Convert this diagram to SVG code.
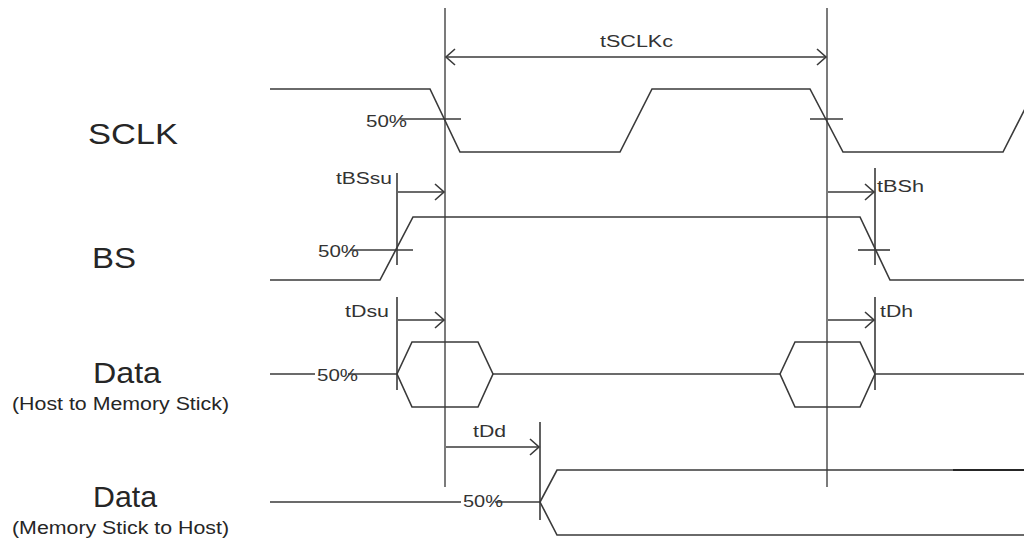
<svg xmlns="http://www.w3.org/2000/svg" width="1024" height="540" viewBox="0 0 1024 540">
  <defs>
    <style>
      .wave { fill: none; stroke: #3a3a3a; stroke-width: 1.6; stroke-linejoin: miter; }
      .guide { fill: none; stroke: #5a5a5a; stroke-width: 1.6; }
      .tick { fill: none; stroke: #3a3a3a; stroke-width: 1.6; }
      .dim { fill: none; stroke: #3a3a3a; stroke-width: 1.5; }
      .big { font-family: "Liberation Sans", Arial, sans-serif; font-size: 30px; fill: #262626; }
      .sub { font-family: "Liberation Sans", Arial, sans-serif; font-size: 18px; fill: #262626; }
      .lbl { font-family: "Liberation Sans", Arial, sans-serif; font-size: 16px; fill: #333333; }
    </style>
    <marker id="ah" markerUnits="userSpaceOnUse" markerWidth="24" markerHeight="24" viewBox="-12 -12 24 24" refX="0" refY="0" orient="auto-start-reverse">
      <path d="M-9,-8 L0,0 L-9,8" fill="none" stroke="#3a3a3a" stroke-width="1.6"/>
    </marker>
  </defs>
  <rect width="1024" height="540" fill="#ffffff"/>

  <g id="signal-labels">
    <text class="big" x="88" y="144" textLength="90" lengthAdjust="spacingAndGlyphs">SCLK</text>
    <text class="big" x="92" y="268" textLength="44" lengthAdjust="spacingAndGlyphs">BS</text>
    <text class="big" x="93" y="383" textLength="68" lengthAdjust="spacingAndGlyphs">Data</text>
    <text class="sub" x="12" y="410" textLength="217" lengthAdjust="spacingAndGlyphs">(Host to Memory Stick)</text>
    <text class="big" x="93" y="507" textLength="64" lengthAdjust="spacingAndGlyphs">Data</text>
    <text class="sub" x="12" y="534" textLength="217" lengthAdjust="spacingAndGlyphs">(Memory Stick to Host)</text>
  </g>

  <g id="guides">
    <line class="guide" x1="445" y1="8" x2="445" y2="487"/>
    <line class="guide" x1="827" y1="8" x2="827" y2="487"/>
  </g>

  <g id="sclk">
    <polyline class="wave" points="270,89 430,89 460,152 620,152 652,89 810,89 843,152 1003,152 1035,89"/>
    <line class="tick" x1="400" y1="119" x2="461" y2="119"/>
    <line class="tick" x1="810" y1="119" x2="843" y2="119"/>
    <text class="lbl" x="366" y="127" textLength="41" lengthAdjust="spacingAndGlyphs">50%</text>
  </g>

  <g id="bs">
    <polyline class="wave" points="270,280 380,280 413,217 860,217 890,280 1024,280"/>
    <line class="tick" x1="350" y1="250" x2="413" y2="250"/>
    <line class="tick" x1="858" y1="250" x2="890" y2="250"/>
    <line class="tick" x1="397" y1="173" x2="397" y2="265"/>
    <line class="tick" x1="875" y1="168" x2="875" y2="265"/>
    <text class="lbl" x="318" y="257" textLength="41" lengthAdjust="spacingAndGlyphs">50%</text>
  </g>

  <g id="data-host-to-ms">
    <line class="wave" x1="270" y1="374" x2="315" y2="374"/>
    <line class="wave" x1="348" y1="374" x2="397" y2="374"/>
    <polygon class="wave" points="397,374 412,342 478,342 493,374 478,407 412,407"/>
    <line class="wave" x1="493" y1="374" x2="780" y2="374"/>
    <polygon class="wave" points="780,374 795,342 860,342 875,374 860,407 795,407"/>
    <line class="wave" x1="875" y1="374" x2="1024" y2="374"/>
    <line class="tick" x1="397" y1="297" x2="397" y2="390"/>
    <line class="tick" x1="875" y1="297" x2="875" y2="390"/>
    <text class="lbl" x="317" y="381" textLength="41" lengthAdjust="spacingAndGlyphs">50%</text>
  </g>

  <g id="data-ms-to-host">
    <line class="wave" x1="270" y1="502" x2="461" y2="502"/>
    <line class="wave" x1="495" y1="502" x2="540" y2="502"/>
    <polyline class="wave" points="1024,470 557,470 540,502 557,535 1024,535"/>
    <line x1="953" y1="470" x2="1024" y2="470" stroke="#111111" stroke-width="1.6"/>
    <line class="tick" x1="540" y1="422" x2="540" y2="520"/>
    <text class="lbl" x="463" y="507" textLength="40" lengthAdjust="spacingAndGlyphs">50%</text>
  </g>

  <g id="connectors">
    <line class="dim" x1="446" y1="57" x2="826" y2="57" marker-start="url(#ah)" marker-end="url(#ah)"/>
    <line class="dim" x1="398" y1="192" x2="444" y2="192" marker-end="url(#ah)"/>
    <line class="dim" x1="828" y1="192" x2="874" y2="192" marker-end="url(#ah)"/>
    <line class="dim" x1="398" y1="320" x2="444" y2="320" marker-end="url(#ah)"/>
    <line class="dim" x1="828" y1="320" x2="874" y2="320" marker-end="url(#ah)"/>
    <line class="dim" x1="446" y1="447" x2="539" y2="447" marker-end="url(#ah)"/>
  </g>

  <g id="timing-labels">
    <text class="lbl" x="600" y="47" textLength="73" lengthAdjust="spacingAndGlyphs">tSCLKc</text>
    <text class="lbl" x="336" y="184" textLength="56" lengthAdjust="spacingAndGlyphs">tBSsu</text>
    <text class="lbl" x="877" y="192" textLength="47" lengthAdjust="spacingAndGlyphs">tBSh</text>
    <text class="lbl" x="345" y="317" textLength="44" lengthAdjust="spacingAndGlyphs">tDsu</text>
    <text class="lbl" x="880" y="317" textLength="33" lengthAdjust="spacingAndGlyphs">tDh</text>
    <text class="lbl" x="473" y="437" textLength="33" lengthAdjust="spacingAndGlyphs">tDd</text>
  </g>
</svg>
